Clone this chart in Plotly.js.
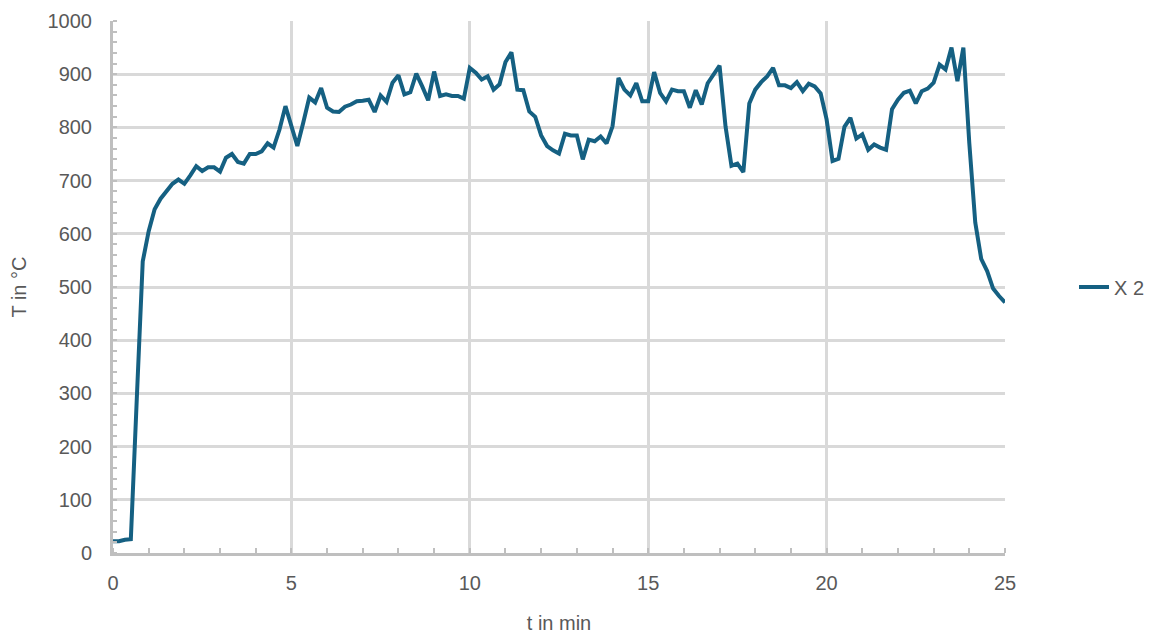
<!DOCTYPE html>
<html>
<head>
<meta charset="utf-8">
<script src="https://cdn.plot.ly/plotly-3.0.1.min.js"></script>
<style>
html, body { margin: 0; padding: 0; background: #ffffff; }
#chart { width: 1152px; height: 634px; }
</style>
</head>
<body>
<div id="chart"></div>
<script>
// Sample interval: 10 s (1/6 min)
const stepMin = 1 / 6;
const seriesName = "X 2";
const temperatures = [
  22, 22, 25, 26, 290, 548, 605, 646, 666, 680,
  694, 702, 694, 710, 727, 718, 725, 725, 717, 743,
  750, 735, 732, 750, 750, 755, 770, 762, 796, 840,
  802, 765, 809, 856, 847, 874, 837, 830, 829, 839,
  843, 849, 850, 852, 829, 860, 848, 884, 898, 862,
  866, 901, 877, 851, 905, 859, 862, 859, 859, 854,
  912, 903, 890, 896, 871, 881, 923, 941, 871, 870,
  830, 820, 785, 765, 757, 751, 788, 785, 785, 740,
  777, 774, 783, 770, 802, 893, 871, 860, 883, 849,
  849, 904, 865, 849, 871, 868, 868, 837, 870, 843,
  883, 901, 916, 802, 728, 732, 716, 845, 871, 885,
  896, 912, 879, 879, 874, 885, 868, 882, 877, 864,
  815, 737, 741, 801, 818, 779, 787, 758, 768, 762,
  758, 834, 852, 865, 869, 845, 868, 873, 884, 918,
  909, 950, 887, 950, 770, 621, 553, 530, 497, 483,
  471
];
const times = temperatures.map((_, i) => i * stepMin);

const xTickVals = [0, 5, 10, 15, 20, 25];
const yTickVals = [0, 100, 200, 300, 400, 500, 600, 700, 800, 900, 1000];

const labelColor = "#595959";
const gridColor = "#D9D9D9";
const axisColor = "#BFBFBF";
const lineColor = "#156082";
const fontFamily = "Liberation Sans, Arial, sans-serif";
const fontSize = 20;

const trace = {
  x: times,
  y: temperatures,
  type: "scatter",
  mode: "lines",
  name: seriesName,
  line: { color: lineColor, width: 4 }
};

const layout = {
  width: 1152,
  height: 634,
  margin: { l: 113, r: 147, t: 21, b: 81 },
  paper_bgcolor: "#ffffff",
  plot_bgcolor: "#ffffff",
  font: { family: fontFamily, size: fontSize, color: labelColor },
  showlegend: true,
  legend: {
    xref: "container",
    x: 0.9323, xanchor: "left",
    yref: "paper",
    y: 0.5, yanchor: "middle",
    font: { family: fontFamily, size: fontSize, color: labelColor },
    itemwidth: 30,
    borderwidth: 0
  },
  xaxis: {
    range: [0, 25],
    tickvals: xTickVals,
    ticktext: xTickVals.map(String),
    showgrid: true,
    gridcolor: gridColor,
    gridwidth: 3,
    zeroline: false,
    showline: true,
    linecolor: axisColor,
    linewidth: 3,
    ticks: "",
    ticklabelstandoff: 10,
    minor: { dtick: 1, ticks: "inside", ticklen: 5, tickwidth: 2, tickcolor: axisColor, showgrid: false },
    tickfont: { family: fontFamily, size: fontSize, color: labelColor },
    title: { text: "t in min", font: { family: fontFamily, size: fontSize, color: labelColor }, standoff: 24 }
  },
  yaxis: {
    range: [0, 1000],
    tickvals: yTickVals,
    ticktext: yTickVals.map(String),
    showgrid: true,
    gridcolor: gridColor,
    gridwidth: 3,
    zeroline: false,
    showline: true,
    linecolor: axisColor,
    linewidth: 3,
    ticks: "",
    ticklabelstandoff: 14,
    minor: { dtick: 20, ticks: "inside", ticklen: 4, tickwidth: 2, tickcolor: axisColor, showgrid: false },
    tickfont: { family: fontFamily, size: fontSize, color: labelColor },
    title: { text: "T in °C", font: { family: fontFamily, size: fontSize, color: labelColor }, standoff: 16 }
  }
};

Plotly.newPlot("chart", [trace], layout, { displayModeBar: false, staticPlot: true });
</script>
</body>
</html>
